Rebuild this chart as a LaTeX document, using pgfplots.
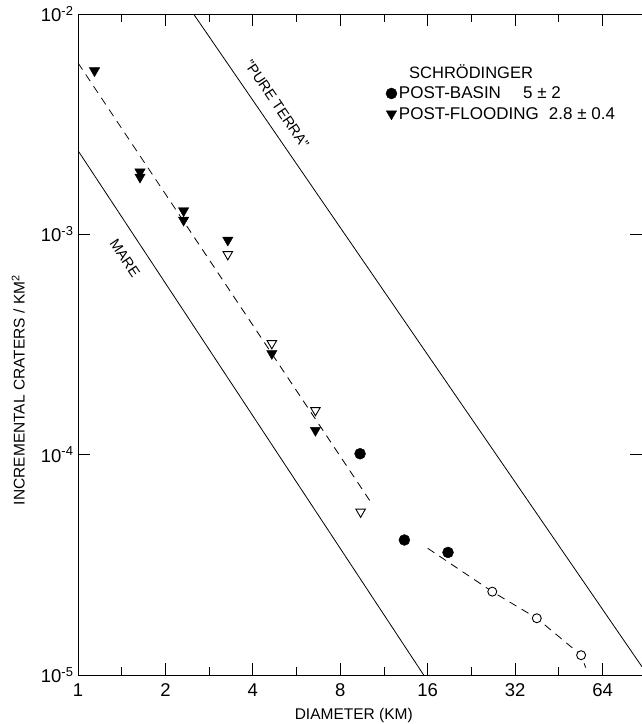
\documentclass[border=0pt]{standalone}
\usepackage{fontspec}
\setmainfont{Liberation Sans}
\usepackage{pgfplots}
\pgfplotsset{compat=1.18}
\begin{document}
\begin{tikzpicture}
\begin{axis}[
  scale only axis,
  width=564pt, height=661pt,
  xmode=log, ymode=log,
  xmin=1, xmax=87.5,
  ymin=1e-5, ymax=1e-2,
  xtick={1,2,4,8,16,32,64},
  xticklabels={1,2,4,8,16,32,64},
  minor xtick={1.414,2.828,5.657,11.31,22.63,45.25},
  ytick={1e-5,1e-4,1e-3,1e-2},
  yticklabels={10\textsuperscript{-5},10\textsuperscript{-4},10\textsuperscript{-3},10\textsuperscript{-2}},
  yminorticks=false,
  tick align=inside,
  major tick length=12pt, minor tick length=8pt,
  tick style={black, line width=0.8pt},
  axis line style={line width=0.9pt},
  ticklabel style={font=\fontsize{18.5}{20}\selectfont},
  xticklabel style={yshift=-5pt},
  yticklabel style={xshift=-1pt},
  xlabel={DIAMETER (KM)},
  ylabel={INCREMENTAL CRATERS / KM\textsuperscript{2}},
  label style={font=\fontsize{15.5}{17}\selectfont},
  xlabel style={at={(axis description cs:0.489,-0.0605)}, anchor=center},
  ylabel style={at={(axis description cs:-0.106,0.431)}, anchor=center},
  legend style={draw=none, fill=none, at={(rel axis cs:0.535,0.93)}, anchor=north west,
    font=\fontsize{17}{19}\selectfont, row sep=3pt},
  legend cell align=left,
]
% reference lines
\addplot[black, line width=0.8pt, forget plot] coordinates {(1,2.4e-3) (15.5,1e-5)};
\addplot[black, line width=0.8pt, forget plot] coordinates {(2.5,1e-2) (87.5,1.09e-5)};
\addplot[black, line width=0.8pt, dash pattern=on 8pt off 6pt, forget plot]
  coordinates {(1,6.0e-3) (10.1,6.2e-5)};
\addplot[black, line width=0.8pt, dash pattern=on 8pt off 6pt, forget plot]
  coordinates {(16,3.76e-5) (26.7,2.39e-5) (38,1.81e-5) (54,1.23e-5) (56,1.08e-5)};

% open symbols
\addplot[only marks, mark=*, mark size=4.5pt, mark options={draw=black, fill=white, line width=0.9pt}, forget plot]
  coordinates {(26.7,2.39e-5) (38,1.81e-5) (54,1.23e-5)};
\addplot[only marks, mark=triangle*, mark size=5.5pt, mark options={rotate=180, draw=black, fill=white, line width=0.9pt}, forget plot]
  coordinates {(3.28,8.11e-4) (4.65,3.2e-4) (6.57,1.59e-4) (9.4,5.5e-5)};

\addlegendimage{empty legend}
\addlegendentry{\hspace*{0.6em}\fontsize{16.5}{19}\selectfont SCHRÖDINGER}
% filled symbols
\addplot[only marks, mark=*, mark size=5.5pt, black]
  coordinates {(9.36,1.01e-4) (13.3,4.1e-5) (18.8,3.6e-5)};
\addlegendentry{POST-BASIN\hspace{1.3em}5 ± 2}
\addplot[only marks, mark=triangle*, mark size=6pt, black, mark options={rotate=180}]
  coordinates {(1.14,5.53e-3) (1.635,1.92e-3) (1.635,1.82e-3) (2.31,1.28e-3) (2.31,1.16e-3)
    (3.28,9.42e-4) (4.65,2.88e-4) (6.57,1.29e-4)};
\addlegendentry{POST-FLOODING\hspace{0.6em}2.8 ± 0.4}

\node[rotate=-56, font=\fontsize{14.5}{16}\selectfont] at (axis cs:1.45,7.8e-4) {MARE};
\node[rotate=-56, font=\fontsize{14.5}{16}\selectfont] at (axis cs:4.84,3.9e-3) {"PURE TERRA"};
\end{axis}
\pgfresetboundingbox
\path[use as bounding box] ([shift={(-78pt,-49pt)}]current axis.south west)
  rectangle ([shift={(0pt,14pt)}]current axis.north east);
\end{tikzpicture}
\end{document}
